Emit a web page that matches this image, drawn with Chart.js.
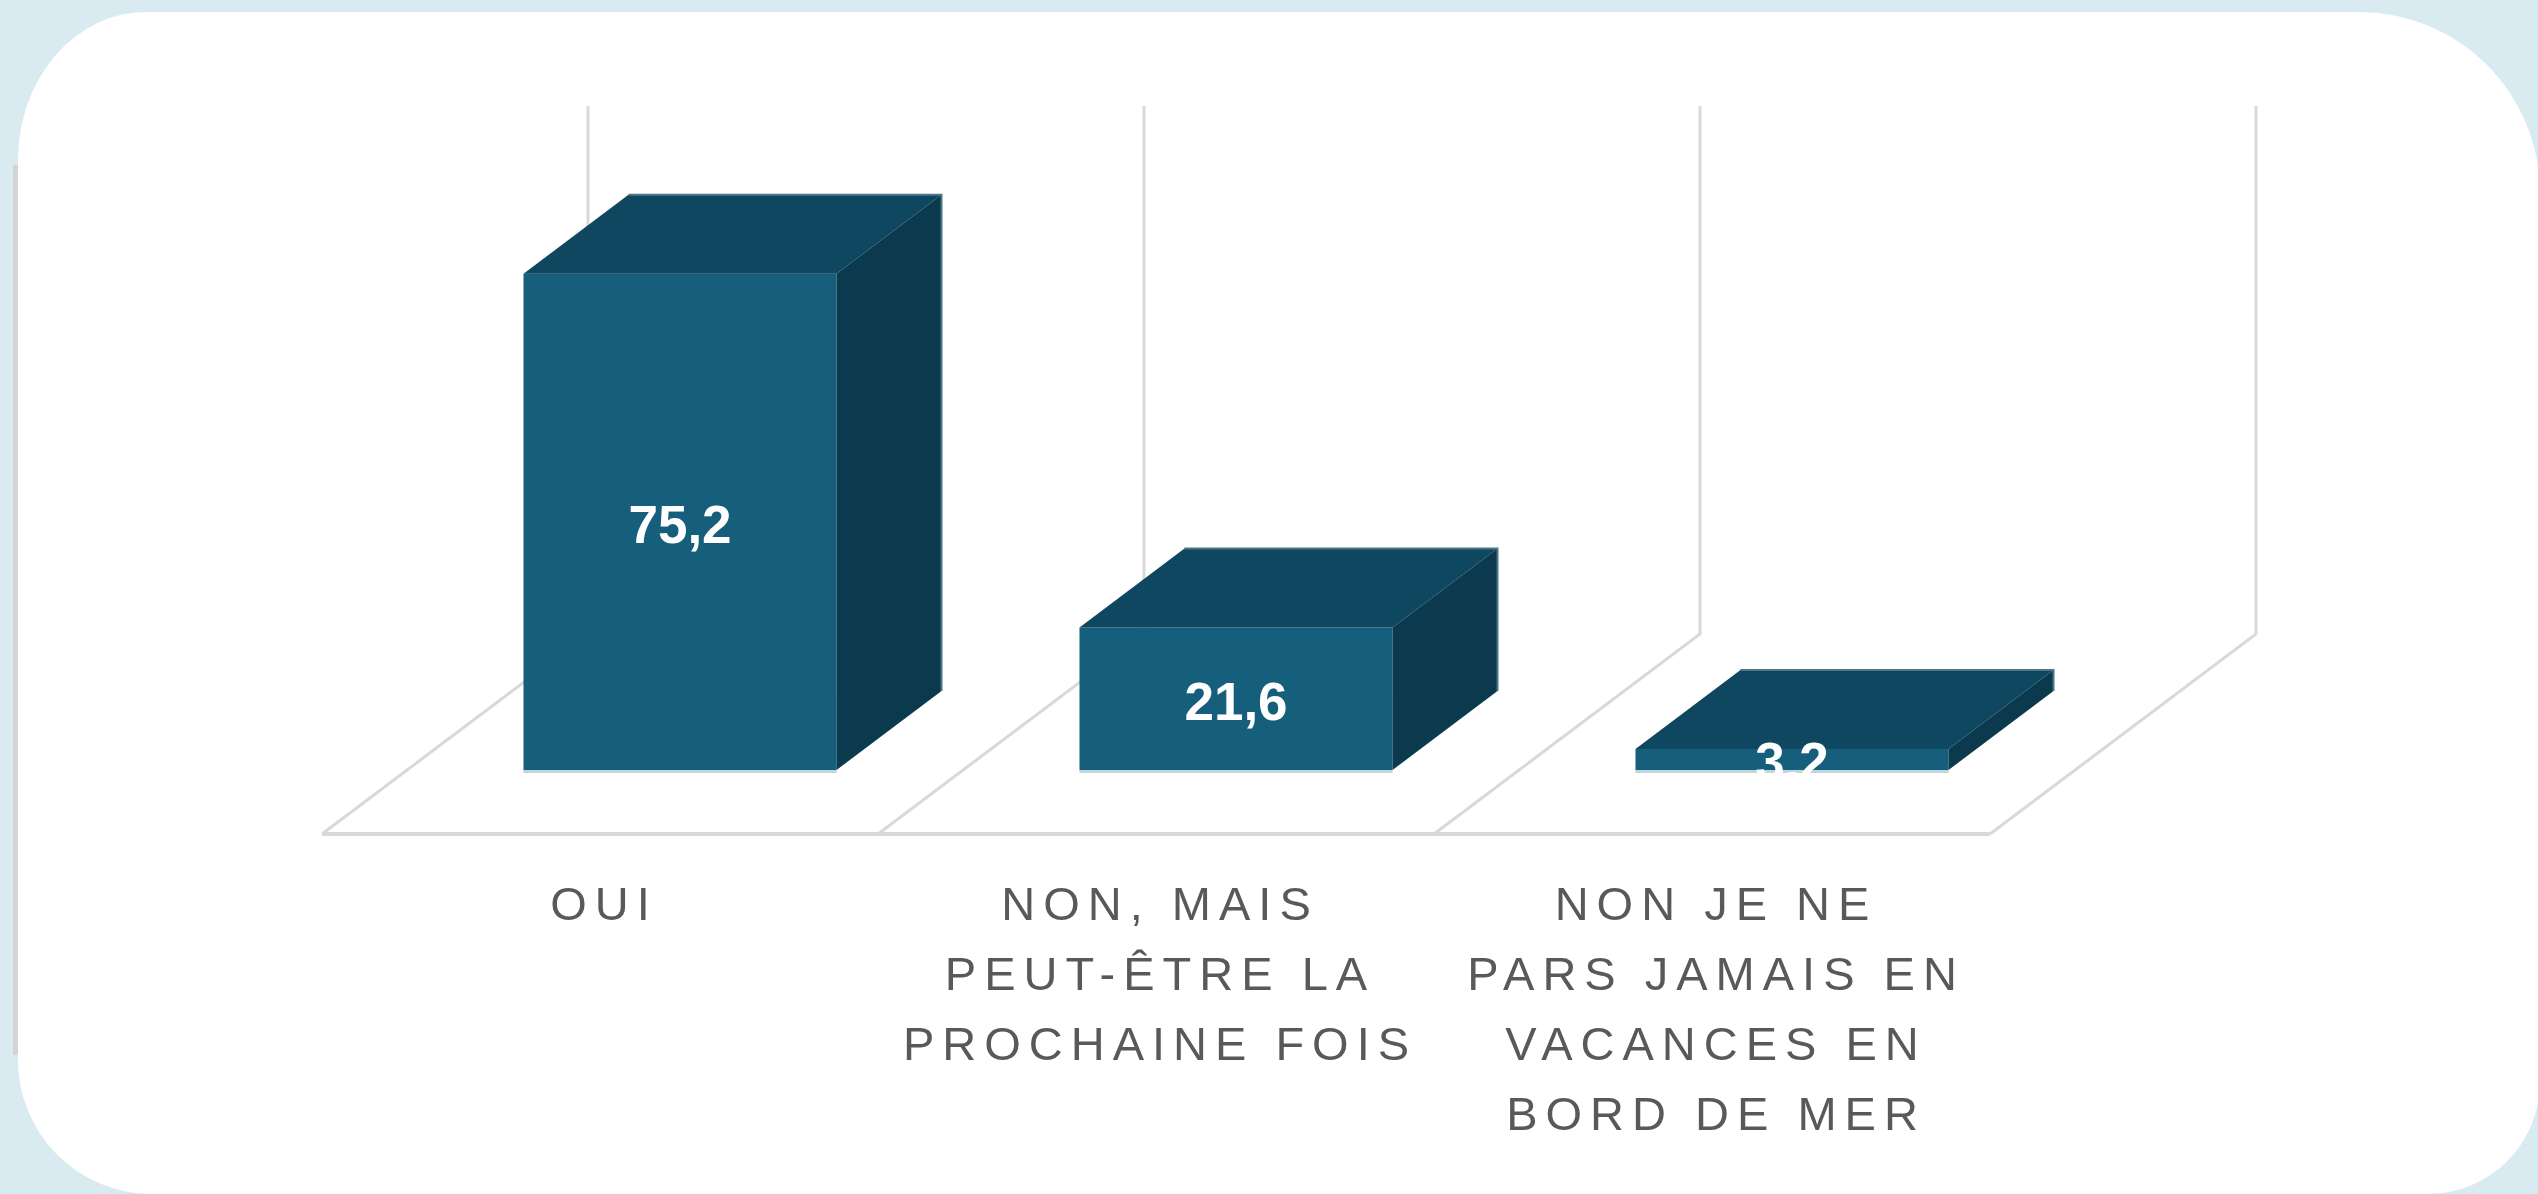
<!DOCTYPE html>
<html lang="fr">
<head>
<meta charset="utf-8">
<title>Graphique 3D</title>
<script src="https://cdn.jsdelivr.net/npm/chart.js@4/dist/chart.umd.min.js"></script>
<style>
  html, body { margin: 0; padding: 0; }
  body { width: 2538px; height: 1194px; background: #d9eaf0; overflow: hidden; position: relative; }
  .ombre { position: absolute; left: 13px; top: 165px; width: 8px; height: 890px; background: #d4d4d4; }
  .carte {
    position: absolute; left: 18px; top: 12px; width: 2522px; height: 1182px; background: #ffffff;
    border-radius: 128px 181px 112px 134px / 148px 181px 112px 134px;
  }
  #graph { position: absolute; left: 0; top: 0; }
</style>
</head>
<body>
<div class="ombre"></div>
<div class="carte"></div>
<canvas id="graph" width="2538" height="1194"></canvas>
<script>
// Données
const categories = [
    ['OUI'],
    ['NON, MAIS', 'PEUT-ÊTRE LA', 'PROCHAINE FOIS'],
    ['NON JE NE', 'PARS JAMAIS EN', 'VACANCES EN', 'BORD DE MER']
];
const values = [75.2, 21.6, 3.2];
const axisMin = 0;
const axisMax = 80;

// Couleurs
const faceColor = '#155e7c';
const topColor = '#0f4660';
const sideColor = '#0b3a4f';
const gridColor = '#d9d9d9';

// Décalages de la perspective (profondeur des barres, sol avant, mur du fond)
const depth = { x: 105, y: -79 };
const front = { x: -80, y: 64 };
const back = { x: 186, y: -136 };

function fmt(v) {
    return String(v).replace('.', ',');
}

// Sol et mur du fond
const murPlugin = {
    id: 'mur',
    beforeDatasetsDraw(chart) {
        const ctx = chart.ctx;
        const xs = chart.scales.x, ys = chart.scales.y;
        const half = (xs.getPixelForValue(1) - xs.getPixelForValue(0)) / 2;
        const y0 = ys.getPixelForValue(axisMin);
        const yTop = ys.getPixelForValue(axisMax);
        const bounds = [];
        for (let i = 0; i <= categories.length; i++) {
            bounds.push(xs.getPixelForValue(0) - half + i * half * 2);
        }
        ctx.save();
        ctx.strokeStyle = gridColor;
        ctx.lineCap = 'butt';
        bounds.forEach(b => {
            ctx.lineWidth = 3;
            ctx.beginPath();
            ctx.moveTo(b + front.x, y0 + front.y);
            ctx.lineTo(b + back.x, y0 + back.y);
            ctx.lineTo(b + back.x, yTop + back.y);
            ctx.stroke();
        });
        ctx.lineWidth = 4;
        ctx.beginPath();
        ctx.moveTo(bounds[0] + front.x, y0 + front.y);
        ctx.lineTo(bounds[bounds.length - 1] + front.x, y0 + front.y);
        ctx.stroke();
        ctx.restore();
    },
    afterDatasetsDraw(chart) {
        const ctx = chart.ctx;
        const meta = chart.getDatasetMeta(0);
        ctx.save();
        meta.data.forEach(bar => {
            const l = bar.x - bar.width / 2;
            const r = bar.x + bar.width / 2;
            const t = bar.y;
            const b = bar.base;
            // dessus
            ctx.fillStyle = topColor;
            ctx.beginPath();
            ctx.moveTo(l, t);
            ctx.lineTo(l + depth.x, t + depth.y);
            ctx.lineTo(r + depth.x, t + depth.y);
            ctx.lineTo(r, t);
            ctx.closePath();
            ctx.fill();
            // côté
            ctx.fillStyle = sideColor;
            ctx.beginPath();
            ctx.moveTo(r, t);
            ctx.lineTo(r + depth.x, t + depth.y);
            ctx.lineTo(r + depth.x, b + depth.y);
            ctx.lineTo(r, b);
            ctx.closePath();
            ctx.fill();
            // arêtes claires
            ctx.strokeStyle = '#4f7588';
            ctx.lineWidth = 2;
            ctx.beginPath();
            ctx.moveTo(l + depth.x, t + depth.y);
            ctx.lineTo(r + depth.x, t + depth.y);
            ctx.lineTo(r + depth.x, b + depth.y);
            ctx.stroke();
            ctx.fillStyle = '#c2d5dd';
            ctx.fillRect(l, b, bar.width, 3);
        });
        ctx.restore();
    },
    afterDraw(chart) {
        const ctx = chart.ctx;
        const xs = chart.scales.x, ys = chart.scales.y;
        const meta = chart.getDatasetMeta(0);
        const y0 = ys.getPixelForValue(axisMin);

        // étiquettes de valeurs
        ctx.save();
        ctx.beginPath();
        ctx.rect(0, 0, chart.width, y0 + 3);
        ctx.clip();
        ctx.fillStyle = '#ffffff';
        ctx.font = 'bold 53px "Liberation Sans", Arial, sans-serif';
        ctx.textAlign = 'center';
        ctx.textBaseline = 'alphabetic';
        meta.data.forEach((bar, i) => {
            const cy = (bar.y + bar.base) / 2;
            ctx.fillText(fmt(values[i]), bar.x, cy + 21);
        });
        ctx.restore();

        // catégories
        ctx.save();
        ctx.fillStyle = '#595959';
        ctx.font = '47px "Liberation Sans", Arial, sans-serif';
        ctx.letterSpacing = '8px';
        ctx.textAlign = 'center';
        ctx.textBaseline = 'alphabetic';
        categories.forEach((lines, i) => {
            const cx = xs.getPixelForValue(i) + front.x;
            lines.forEach((line, j) => {
                ctx.fillText(line, cx + 4, y0 + front.y + 86 + j * 70);
            });
        });
        ctx.restore();
    }
};

const ctx = document.getElementById('graph').getContext('2d');
const chart = new Chart(ctx, {
    type: 'bar',
    data: {
        labels: categories,
        datasets: [{
            data: values,
            backgroundColor: faceColor,
            borderWidth: 0,
            barPercentage: 0.563,
            categoryPercentage: 1
        }]
    },
    options: {
        responsive: false,
        animation: false,
        layout: {
            padding: { left: 402, right: 468, top: 242, bottom: 424 }
        },
        plugins: {
            legend: { display: false },
            tooltip: { enabled: false }
        },
        scales: {
            x: { display: false, offset: true },
            y: { display: false, min: axisMin, max: axisMax }
        }
    },
    plugins: [murPlugin]
});
</script>
</body>
</html>
